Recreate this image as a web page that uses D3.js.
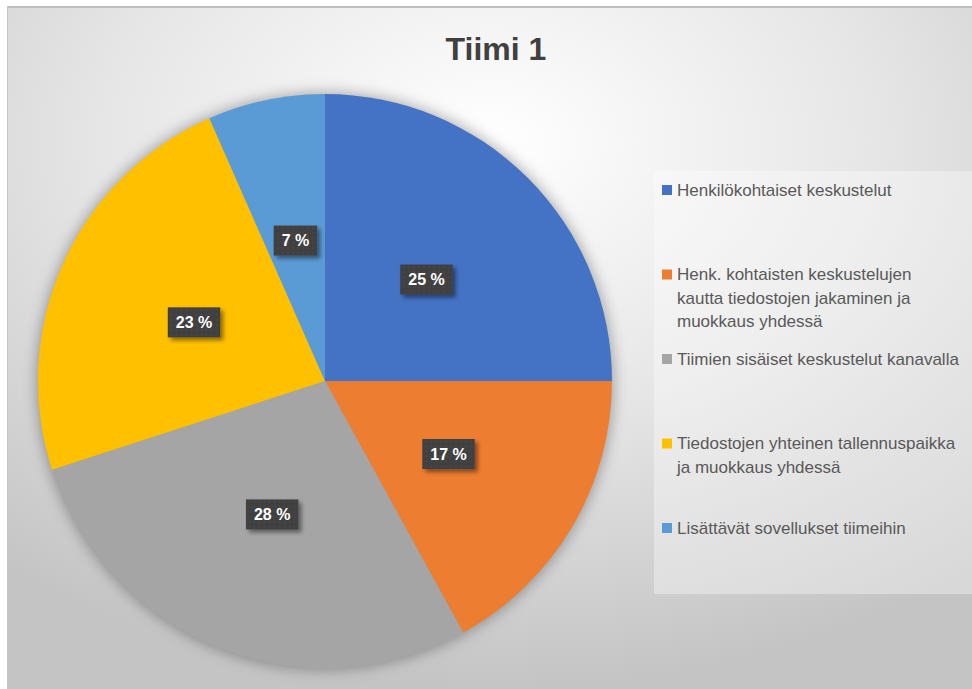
<!DOCTYPE html>
<html>
<head>
<meta charset="utf-8">
<script src="https://cdn.jsdelivr.net/npm/d3@7"></script>
<style>
  body { margin: 0; background: #fff; }
  svg { display: block; font-family: "Liberation Sans", Arial, sans-serif; }
</style>
</head>
<body>
<span></span>
<script>
let width = 972;
let height = 689;

// data
let categories = [
    "Henkilökohtaiset keskustelut",
    "Henk. kohtaisten keskustelujen kautta tiedostojen jakaminen ja muokkaus yhdessä",
    "Tiimien sisäiset keskustelut kanavalla",
    "Tiedostojen yhteinen tallennuspaikka ja muokkaus yhdessä",
    "Lisättävät sovellukset tiimeihin"
];
let values = [25, 17, 28, 23.4, 6.6];
let legendLines = [
    ["Henkilökohtaiset keskustelut"],
    ["Henk. kohtaisten keskustelujen", "kautta tiedostojen jakaminen ja", "muokkaus yhdessä"],
    ["Tiimien sisäiset keskustelut kanavalla"],
    ["Tiedostojen yhteinen tallennuspaikka", "ja muokkaus yhdessä"],
    ["Lisättävät sovellukset tiimeihin"]
];
let colors = ["#4472C4", "#ED7D31", "#A5A5A5", "#FFC000", "#5B9BD5"];
let title = "Tiimi 1";

let centerX = 325;
let centerY = 381;
let radius = 287;

let svg = d3.select("span")
    .append("svg")
    .attr("width", width)
    .attr("height", height);

let defs = svg.append("defs");

// background gradient
let grad = defs.append("radialGradient")
    .attr("id", "bg")
    .attr("cx", "0.5").attr("cy", "0.2")
    .attr("r", "0.8");
grad.append("stop").attr("offset", "0").attr("stop-color", "#ffffff");
grad.append("stop").attr("offset", "0.5").attr("stop-color", "#e6e6e6");
grad.append("stop").attr("offset", "1").attr("stop-color", "#c4c4c4");

// halo behind pie
defs.append("filter").attr("id", "halo")
    .attr("x", "-20%").attr("y", "-20%").attr("width", "140%").attr("height", "140%")
    .append("feGaussianBlur").attr("stdDeviation", 7);

// label shadow
let sh = defs.append("filter").attr("id", "lblShadow")
    .attr("x", "-30%").attr("y", "-30%").attr("width", "160%").attr("height", "170%");
sh.append("feDropShadow")
    .attr("dx", 3).attr("dy", 3)
    .attr("stdDeviation", 2)
    .attr("flood-color", "#000")
    .attr("flood-opacity", 0.45);

// dotted pattern on the labels
let pat = defs.append("pattern").attr("id", "dots")
    .attr("width", 5).attr("height", 5)
    .attr("patternUnits", "userSpaceOnUse");
pat.append("rect").attr("width", 5).attr("height", 5).attr("fill", "#404040");
pat.append("circle").attr("cx", 2.5).attr("cy", 2.5).attr("r", 0.9).attr("fill", "#4a4a4a");

// frame
svg.append("rect")
    .attr("x", 7).attr("y", 6)
    .attr("width", width - 7).attr("height", height - 6)
    .attr("fill", "url(#bg)");
svg.append("line")
    .attr("x1", 7).attr("y1", 7).attr("x2", width).attr("y2", 7)
    .style("stroke", "#bdbdbd").style("stroke-width", 2);
svg.append("line")
    .attr("x1", 7.5).attr("y1", 6).attr("x2", 7.5).attr("y2", height)
    .style("stroke", "#c4c4c4").style("stroke-width", 1);

// title
svg.append("text")
    .attr("x", 496)
    .attr("y", 60)
    .attr("text-anchor", "middle")
    .style("font-size", "32px")
    .style("font-weight", "bold")
    .style("fill", "#404040")
    .text(title);

// legend panel
svg.append("rect")
    .attr("x", 654).attr("y", 171)
    .attr("width", width - 654).attr("height", 594 - 171)
    .attr("fill", "#ffffff")
    .attr("fill-opacity", 0.35);

// pie
let pie = d3.pie().sort(null).value(d => d);
let arcs = pie(values);
let arc = d3.arc().innerRadius(0).outerRadius(radius);

let g = svg.append("g").attr("transform", `translate(${centerX},${centerY})`);

g.append("circle")
    .attr("r", radius + 2)
    .attr("fill", "#000")
    .attr("fill-opacity", 0.3)
    .attr("filter", "url(#halo)");

g.selectAll("path.slice")
    .data(arcs)
    .enter()
    .append("path")
    .attr("class", "slice")
    .attr("d", arc)
    .attr("fill", (d, i) => colors[i]);

// data labels
let fmt = d => d3.format(".0f")(d) + " %";
let labels = g.selectAll("g.lbl")
    .data(arcs)
    .enter()
    .append("g")
    .attr("class", "lbl")
    .attr("transform", d => `translate(${arc.centroid(d)})`);

labels.append("text")
    .attr("text-anchor", "middle")
    .attr("dy", "0.35em")
    .style("font-size", "16px")
    .style("font-weight", "bold")
    .style("fill", "#ffffff")
    .text(d => fmt(d.data));

labels.each(function () {
    let gg = d3.select(this);
    let w = gg.select("text").node().getComputedTextLength();
    gg.insert("rect", "text")
        .attr("x", -w / 2 - 8)
        .attr("y", -15)
        .attr("width", w + 16)
        .attr("height", 30)
        .attr("fill", "url(#dots)")
        .attr("filter", "url(#lblShadow)");
});

// legend
let legendY = d3.scalePoint()
    .domain(categories)
    .range([190, 528]);
let lineH = 23.5;

let legend = svg.append("g");
let items = legend.selectAll("g.item")
    .data(categories)
    .enter()
    .append("g")
    .attr("class", "item")
    .attr("transform", d => `translate(662,${legendY(d)})`);

items.append("rect")
    .attr("x", 0).attr("y", -5)
    .attr("width", 10).attr("height", 10)
    .attr("fill", (d, i) => colors[i]);

items.append("text")
    .attr("x", 15)
    .style("font-size", "17px")
    .style("fill", "#595959")
    .selectAll("tspan")
    .data((d, i) => legendLines[i])
    .enter()
    .append("tspan")
    .attr("x", 15)
    .attr("y", (d, j) => j * lineH)
    .attr("dy", "0.35em")
    .text(d => d);
</script>
</body>
</html>
